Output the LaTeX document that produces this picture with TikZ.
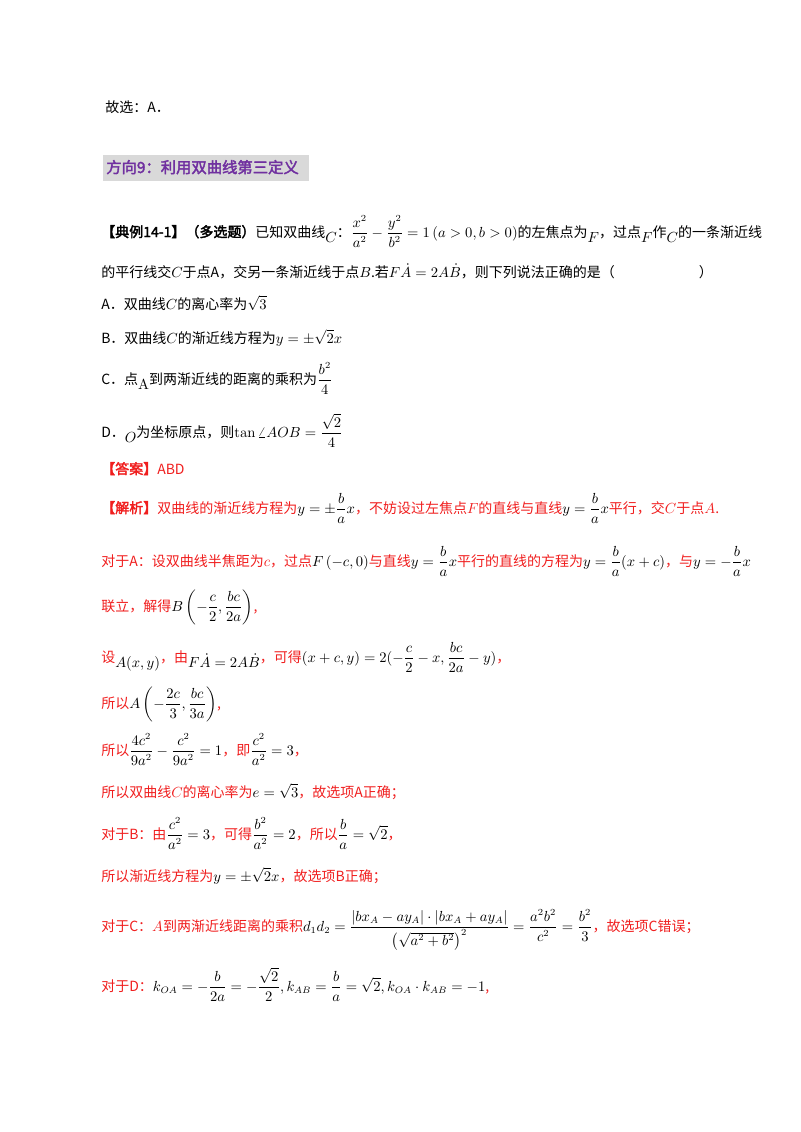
\documentclass[tikz,border=0pt]{standalone}
\usepackage{amsmath}
\usepackage[no-math]{fontspec}
\setmainfont{Noto Sans CJK SC}[AutoFakeBold=2.5]
\definecolor{hred}{RGB}{240,30,30}
\definecolor{hpurple}{RGB}{112,48,160}
\definecolor{hgray}{RGB}{217,217,217}
\newcommand{\lowm}[1]{\raisebox{-4pt}{$#1$}}
\begin{document}
\begin{tikzpicture}[x=0.75pt,y=-0.75pt,
  ln/.style={anchor=base west,inner sep=0pt,font=\fontsize{10.5}{12}\selectfont},
  rd/.style={ln,text=hred}]
\useasboundingbox (0,0) rectangle (800,1132);
\node[ln] (l0) at (105,112) {故选：A．};
\fill[hgray] (103,155) rectangle (309,181);
\node[ln,text=hpurple,font=\fontsize{11.5}{13}\selectfont\bfseries] (h) at (106,173) {方向9：利用双曲线第三定义};
\node[ln] (l1) at (101,237) {\textbf{【典例14-1】（多选题）}已知双曲线\lowm{C}：$\dfrac{x^2}{a^2}-\dfrac{y^2}{b^2}=1\left(a>0,b>0\right)$的左焦点为\lowm{F}，过点\lowm{F}作\lowm{C}的一条渐近线};
\node[ln] (l2) at (101,277) {的平行线交$C$于点A，交另一条渐近线于点$B$.若$F\dot{A}=2A\dot{B}$，则下列说法正确的是（\hspace{6em}）};
\node[ln] (a) at (101,309) {A．双曲线$C$的离心率为$\sqrt3$};
\node[ln] (b) at (101,343) {B．双曲线$C$的渐近线方程为$y=\pm\sqrt2x$};
\node[ln] (c) at (101,384) {C．点\lowm{\mathrm A}到两渐近线的距离的乘积为$\dfrac{b^2}{4}$};
\node[ln] (d) at (101,437) {D．\lowm{O}为坐标原点，则$\tan\angle AOB=\dfrac{\sqrt2}{4}$};
\node[rd] (ans) at (101,474) {\textbf{【答案】}ABD};
\node[rd] (j1) at (101,513) {\textbf{【解析】}双曲线的渐近线方程为\textcolor{black}{$y=\pm\dfrac{b}{a}x$}，不妨设过左焦点$F$的直线与直线\textcolor{black}{$y=\dfrac{b}{a}x$}平行，交$C$于点$A$.};
\node[rd] (j2) at (101,566) {对于A：设双曲线半焦距为$c$，过点\textcolor{black}{$F\left(-c,0\right)$}与直线\textcolor{black}{$y=\dfrac{b}{a}x$}平行的直线的方程为\textcolor{black}{$y=\dfrac{b}{a}(x+c)$}，与\textcolor{black}{$y=-\dfrac{b}{a}x$}};
\node[rd] (j3) at (101,611) {联立，解得\textcolor{black}{$B\left(-\dfrac{c}{2},\dfrac{bc}{2a}\right)$},};
\node[rd] (j4) at (101,662) {设\textcolor{black}{\lowm{A(x,y)}}，由\textcolor{black}{\lowm{F\dot{A}=2A\dot{B}}}，可得\textcolor{black}{$(x+c,y)=2(-\dfrac{c}{2}-x,\dfrac{bc}{2a}-y)$}，};
\node[rd] (j5) at (101,708) {所以\textcolor{black}{$A\left(-\dfrac{2c}{3},\dfrac{bc}{3a}\right)$},};
\node[rd] (j6) at (101,755) {所以\textcolor{black}{$\dfrac{4c^2}{9a^2}-\dfrac{c^2}{9a^2}=1$}，即\textcolor{black}{$\dfrac{c^2}{a^2}=3$}，};
\node[rd] (j7) at (101,797) {所以双曲线$C$的离心率为\textcolor{black}{$e=\sqrt3$}，故选项A正确；};
\node[rd] (j8) at (101,839) {对于B：由\textcolor{black}{$\dfrac{c^2}{a^2}=3$}，可得\textcolor{black}{$\dfrac{b^2}{a^2}=2$}，所以\textcolor{black}{$\dfrac{b}{a}=\sqrt2$}，};
\node[rd] (j9) at (101,881) {所以渐近线方程为\textcolor{black}{$y=\pm\sqrt2x$}，故选项B正确；};
\node[rd] (j10) at (101,931) {对于C：$A$到两渐近线距离的乘积\textcolor{black}{$d_1d_2=\dfrac{\left|bx_A-ay_A\right|\cdot\left|bx_A+ay_A\right|}{\left(\sqrt{a^2+b^2}\right)^2}=\dfrac{a^2b^2}{c^2}=\dfrac{b^2}{3}$}，故选项C错误；};
\node[rd] (j11) at (101,991) {对于D：\textcolor{black}{$k_{OA}=-\dfrac{b}{2a}=-\dfrac{\sqrt2}{2},k_{AB}=\dfrac{b}{a}=\sqrt2,k_{OA}\cdot k_{AB}=-1$},};
\end{tikzpicture}
\end{document}
